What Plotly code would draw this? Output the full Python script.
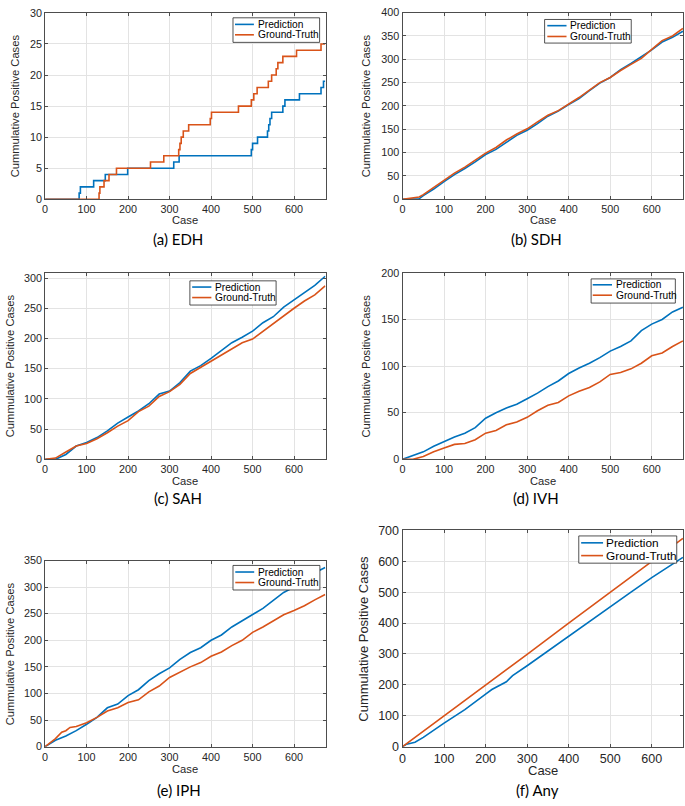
import plotly.graph_objects as go

W, H = 685, 806
BLUE = "#0072BD"
ORANGE = "#D95319"
TXT = "#262626"
FONT = "Liberation Sans, Arial, sans-serif"

# ---------------- data ----------------
# (a) EDH : step curves, breakpoints (case, cumulative count)
edh_pred_x = [0, 82, 85, 117, 145, 199, 310, 323, 497, 500, 512, 536, 539, 542, 546, 573, 578, 613, 665, 671, 675]
edh_pred_y = [0, 1, 2, 3, 4, 5, 6, 7, 8, 9, 10, 11, 12, 13, 14, 15, 16, 17, 18, 19, 19]
edh_gt_x = [0, 130, 132, 142, 154, 172, 254, 286, 322, 325, 328, 333, 346, 398, 401, 466, 497, 503, 511, 538, 546, 557, 561, 573, 606, 665, 675]
edh_gt_y = [0, 1, 2, 3, 4, 5, 6, 7, 8, 9, 10, 11, 12, 13, 14, 15, 16, 17, 18, 19, 20, 21, 22, 23, 24, 25, 25]

cases = [0, 25, 50, 75, 100, 125, 150, 175, 200, 225, 250, 275, 300, 325, 350,
         375, 400, 425, 450, 475, 500, 525, 550, 575, 600, 625, 650, 675]

# (b) SDH
sdh_x = [0, 25, 40, 50, 75, 100, 125, 150, 175, 200, 225, 250, 275, 300, 325, 350,
         375, 400, 425, 450, 475, 500, 525, 550, 575, 600, 625, 650, 675]
sdh_pred = [0, 0.5, 1, 8, 22, 38, 53, 66, 80, 96, 107, 122, 137, 148, 162, 178,
            189, 203, 216, 233, 249, 261, 278, 291, 305, 320, 337, 347, 360]
sdh_gt = [0, 4, 5, 10, 25, 41, 56, 69, 84, 99, 111, 127, 140, 151, 166, 180,
          190, 204, 218, 234, 250, 261, 276, 289, 302, 321, 340, 350, 366]

# (c) SAH
sah_pred = [0, 0, 8, 22, 28, 36, 47, 60, 70, 80, 92, 108, 113, 127, 146,
            155, 167, 180, 193, 202, 212, 226, 236, 252, 264, 276, 288, 303]
sah_gt = [0, 2, 12, 22, 26, 34, 44, 55, 64, 79, 88, 104, 112, 124, 142,
          152, 163, 173, 183, 193, 199, 212, 225, 238, 250, 262, 272, 287]

# (d) IVH
ivh_pred = [0, 4, 8, 14, 19, 24, 28, 34, 44, 50, 55, 59, 65, 71, 78,
            84, 92, 98, 103, 109, 116, 121, 127, 138, 145, 150, 158, 163]
ivh_gt = [0, 0, 3, 8, 12, 16, 17, 21, 28, 31, 37, 40, 45, 52, 58,
          61, 68, 73, 77, 83, 91, 93, 97, 103, 111, 114, 121, 127]

# (e) IPH
iph_pred = [0, 12, 20, 30, 42, 55, 73, 80, 96, 107, 124, 137, 148, 164, 177,
            186, 200, 210, 225, 237, 248, 260, 275, 290, 300, 313, 327, 337]
iph_gt_x = [0, 25, 40, 50, 60, 75, 100, 125, 150, 175, 200, 225, 250, 275, 300, 325, 350,
            375, 400, 425, 450, 475, 500, 525, 550, 575, 600, 625, 650, 675]
iph_gt = [0, 15, 27, 30, 36, 38, 45, 55, 67, 73, 83, 88, 103, 114, 130, 140, 150,
          158, 170, 178, 190, 200, 215, 225, 237, 248, 256, 265, 276, 286]

# (f) Any
any_pred_x = [0, 10, 30, 50, 100, 150, 200, 215, 250, 265, 300, 350, 400, 450, 500, 550, 600, 650, 675]
any_pred = [0, 8, 14, 30, 76, 120, 170, 185, 210, 230, 262, 310, 357, 405, 453, 500, 547, 590, 613]
any_gt_x = [0, 100, 200, 300, 400, 500, 600, 675]
any_gt = [0, 99, 200, 299, 400, 499, 600, 674]

series_names = ["Prediction", "Ground-Truth"]
captions = ["(a) EDH", "(b) SDH", "(c) SAH", "(d) IVH", "(e) IPH", "(f) Any"]

# ---------------- layout helpers ----------------
def fx(px):
    return px / W

def fy(py):
    return 1 - py / H

panels = [
    dict(xd=(42.3, 324), yd=(6, 195.7), yr=30, dt=5, s=1.0,
         leg=dict(box=(231, 11, 318, 36), sx=(233, 252), tx=254, rows=(17.7, 28.3)),
         ytx=12.3, xty=217, capx=176, capy=236,
         series=[(edh_pred_x, edh_pred_y, "hv"), (edh_gt_x, edh_gt_y, "hv")]),
    dict(xd=(401.3, 683.3), yd=(5.7, 195.7), yr=400, dt=50, s=1.0,
         leg=dict(box=(544, 12.7, 631, 36.7), sx=(546.7, 566), tx=567.5, rows=(19, 30)),
         ytx=365, xty=217, capx=535.5, capy=236,
         series=[(sdh_x, sdh_pred, "linear"), (sdh_x, sdh_gt, "linear")]),
    dict(xd=(42.3, 324), yd=(270.3, 460.3), yr=309, dt=50, s=1.0,
         leg=dict(box=(187.7, 278.7, 274.3, 303.3), sx=(190, 209.3), tx=210.7, rows=(285, 295.7)),
         ytx=7.3, xty=482, capx=176, capy=500,
         series=[(cases, sah_pred, "linear"), (cases, sah_gt, "linear")]),
    dict(xd=(401.3, 683.3), yd=(270.5, 460.3), yr=200, dt=50, s=1.0,
         leg=dict(box=(590.7, 276.7, 675.3, 301.3), sx=(592.3, 611.7), tx=613.3, rows=(282.7, 293.3)),
         ytx=365, xty=482, capx=535.5, capy=500,
         series=[(cases, ivh_pred, "linear"), (cases, ivh_gt, "linear")]),
    dict(xd=(42.3, 324), yd=(563.3, 752.7), yr=350, dt=50, s=1.0,
         leg=dict(box=(231, 568.3, 318.3, 593.3), sx=(233.3, 252.3), tx=254, rows=(575, 585.7)),
         ytx=6.7, xty=775, capx=177, capy=797,
         series=[(cases, iph_pred, "linear"), (iph_gt_x, iph_gt, "linear")]),
    dict(xd=(401.3, 683.3), yd=(532.7, 752.7), yr=700, dt=100, s=1.16,
         leg=dict(box=(578.3, 538.3, 676.7, 566), sx=(580.7, 602.7), tx=604, rows=(545.3, 558.3)),
         ytx=361.7, xty=777, capx=536.7, capy=797,
         series=[(any_pred_x, any_pred, "linear"), (any_gt_x, any_gt, "linear")]),
]

fig = go.Figure()
layout = dict(width=W, height=H, margin=dict(l=0, r=0, t=0, b=0), showlegend=False,
              paper_bgcolor="white", plot_bgcolor="white", annotations=[], shapes=[])

colors = [BLUE, ORANGE]

for i, p in enumerate(panels):
    k = "" if i == 0 else str(i + 1)
    for j, (xs, ys, shape) in enumerate(p["series"]):
        fig.add_trace(go.Scatter(x=xs, y=ys, mode="lines", name=series_names[j],
                                 line=dict(color=colors[j], width=1.6, shape=shape),
                                 xaxis="x" + k, yaxis="y" + k))
    s = p["s"]
    common = dict(showline=True, linecolor="#4d4d4d", linewidth=1, mirror="ticks",
                  ticks="inside", ticklen=3, tickcolor="#4d4d4d", tickwidth=1,
                  showgrid=True, gridcolor="#e3e3e3", gridwidth=1, zeroline=False,
                  tickfont=dict(family=FONT, size=10.8 * s, color=TXT))
    layout["xaxis" + k] = dict(domain=[fx(p["xd"][0]), fx(p["xd"][1])], anchor="y" + k,
                               range=[0, 676], tickvals=[0, 100, 200, 300, 400, 500, 600],
                               **common)
    layout["yaxis" + k] = dict(domain=[fy(p["yd"][1]), fy(p["yd"][0])], anchor="x" + k,
                               range=[0, p["yr"]], dtick=p["dt"], tick0=0, **common)

    # legend box (MATLAB-style compact legend)
    lg = p["leg"]
    x0, y0, x1, y1 = lg["box"]
    layout["shapes"].append(dict(type="rect", xref="paper", yref="paper",
                                 x0=fx(x0), x1=fx(x1), y0=fy(y1), y1=fy(y0),
                                 fillcolor="white", line=dict(color="#262626", width=0.8),
                                 layer="above"))
    for j in range(2):
        ry = lg["rows"][j]
        layout["shapes"].append(dict(type="line", xref="paper", yref="paper",
                                     x0=fx(lg["sx"][0]), x1=fx(lg["sx"][1]), y0=fy(ry), y1=fy(ry),
                                     line=dict(color=colors[j], width=1.6), layer="above"))
        layout["annotations"].append(dict(text=series_names[j], x=fx(lg["tx"]), y=fy(ry),
                                          xref="paper", yref="paper", showarrow=False,
                                          xanchor="left", yanchor="middle",
                                          font=dict(family=FONT, size=10.2 * s, color="#000")))

    ymid = (p["yd"][0] + p["yd"][1]) / 2
    xmid = (p["xd"][0] + p["xd"][1]) / 2
    layout["annotations"] += [
        dict(text="Cummulative Positive Cases", x=fx(p["ytx"]), y=fy(ymid), xref="paper", yref="paper",
             textangle=-90, showarrow=False, xanchor="center", yanchor="middle",
             font=dict(family=FONT, size=11.2 * s, color=TXT)),
        dict(text="Case", x=fx(xmid), y=fy(p["xty"]), xref="paper", yref="paper",
             showarrow=False, xanchor="center", yanchor="middle",
             font=dict(family=FONT, size=11.2 * s, color=TXT)),
        dict(text=captions[i], x=fx(p["capx"]), y=fy(p["capy"]), xref="paper", yref="paper",
             showarrow=False, xanchor="center", yanchor="middle",
             font=dict(family="Lato, Noto Sans, sans-serif", size=15, color="#000")),
    ]

fig.update_layout(**layout)
fig.write_html("out.html", config={"displayModeBar": False},
               post_script="document.body.style.margin='0';document.body.style.overflow='hidden';")
